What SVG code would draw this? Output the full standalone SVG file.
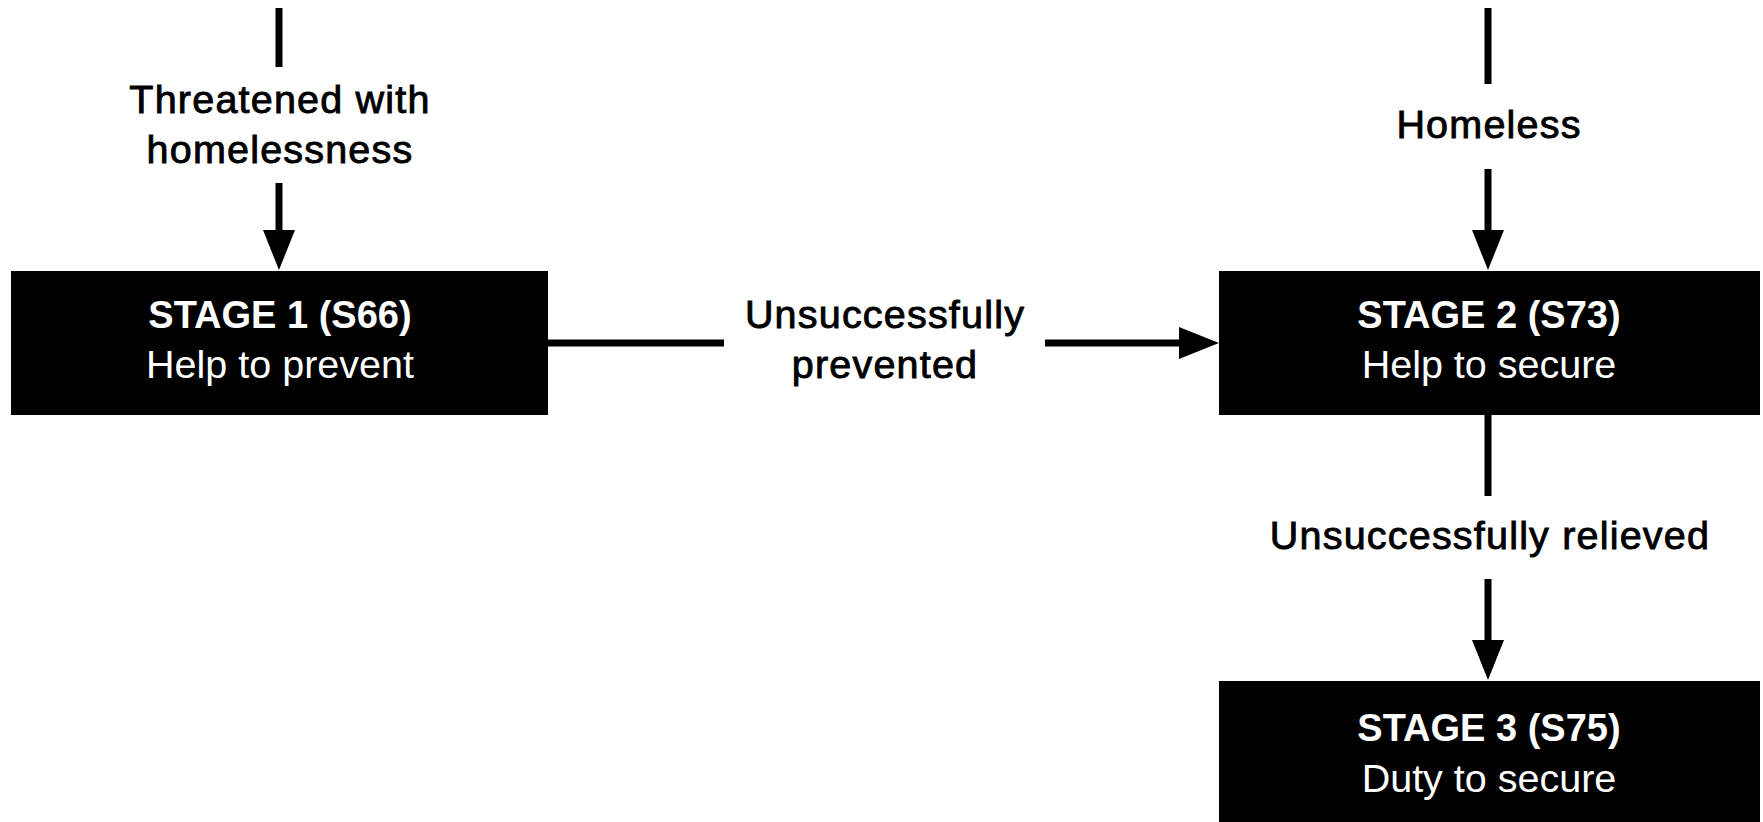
<svg xmlns="http://www.w3.org/2000/svg" width="1763" height="822" viewBox="0 0 1763 822">
  <style>
    .box { fill: #000000; }
    .title { font-family: "Liberation Sans", Arial, sans-serif; font-weight: bold; font-size: 38px; fill: #ffffff; text-anchor: middle; }
    .sub { font-family: "Liberation Sans", Arial, sans-serif; font-size: 39.5px; fill: #ffffff; text-anchor: middle; }
    .label { font-family: "Liberation Sans", Arial, sans-serif; font-size: 39.5px; letter-spacing: 1.2px; fill: #000000; stroke: #000000; stroke-width: 0.9px; text-anchor: middle; }
    .conn { stroke: #000000; stroke-width: 7; fill: none; }
  </style>
  <defs>
    <marker id="arrow" markerUnits="userSpaceOnUse" markerWidth="40" markerHeight="32" viewBox="0 0 40 32" refX="10" refY="16" orient="auto">
      <path d="M0,0 L40,16 L0,32 Z" fill="#000000"/>
    </marker>
  </defs>
  <rect width="1763" height="822" fill="#ffffff"/>

  <g id="connectors">
    <line class="conn" x1="279" y1="8" x2="279" y2="67"/>
    <line class="conn" x1="279" y1="183" x2="279" y2="240" marker-end="url(#arrow)"/>
    <line class="conn" x1="548" y1="343" x2="724" y2="343"/>
    <line class="conn" x1="1045" y1="343" x2="1189" y2="343" marker-end="url(#arrow)"/>
    <line class="conn" x1="1488" y1="8" x2="1488" y2="84"/>
    <line class="conn" x1="1488" y1="169" x2="1488" y2="240" marker-end="url(#arrow)"/>
    <line class="conn" x1="1488" y1="415" x2="1488" y2="496"/>
    <line class="conn" x1="1488" y1="579" x2="1488" y2="650" marker-end="url(#arrow)"/>
  </g>

  <g id="label-threatened">
    <text class="label" x="280" y="113">Threatened with</text>
    <text class="label" x="280" y="163">homelessness</text>
  </g>
  <g id="label-prevented">
    <text class="label" x="885" y="328">Unsuccessfully</text>
    <text class="label" x="885" y="378">prevented</text>
  </g>
  <g id="label-homeless">
    <text class="label" x="1489" y="138">Homeless</text>
  </g>
  <g id="label-relieved">
    <text class="label" x="1490" y="549">Unsuccessfully relieved</text>
  </g>

  <g id="stage1">
    <rect class="box" x="11" y="271" width="537" height="144"/>
    <text class="title" x="280" y="328">STAGE 1 (S66)</text>
    <text class="sub" x="280" y="378">Help to prevent</text>
  </g>
  <g id="stage2">
    <rect class="box" x="1219" y="271" width="541" height="144"/>
    <text class="title" x="1489" y="328">STAGE 2 (S73)</text>
    <text class="sub" x="1489" y="378">Help to secure</text>
  </g>
  <g id="stage3">
    <rect class="box" x="1219" y="681" width="541" height="141"/>
    <text class="title" x="1489" y="741">STAGE 3 (S75)</text>
    <text class="sub" x="1489" y="792">Duty to secure</text>
  </g>
</svg>
